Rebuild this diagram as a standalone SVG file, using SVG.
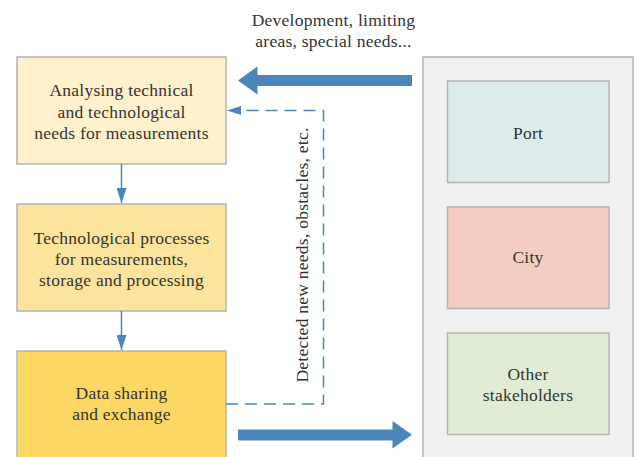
<svg xmlns="http://www.w3.org/2000/svg" width="641" height="457" viewBox="0 0 641 457">
  <defs>
    <style>
      .lbl { font-family: "Liberation Serif", "Times New Roman", serif; font-size: 17.5px; letter-spacing: 0.25px; fill: #333333; text-anchor: middle; }
      .box { stroke: #b3b3b3; stroke-width: 1.5; }
      .thin { stroke: #4a86b9; stroke-width: 1.5; fill: none; }
      .dash { stroke: #4a86b9; stroke-width: 1.5; fill: none; stroke-dasharray: 12 7; }
      .big { fill: #4a86b9; }
    </style>
    <marker id="headLong" markerWidth="15" markerHeight="10" viewBox="0 0 15 10" refX="15" refY="5" orient="auto" markerUnits="userSpaceOnUse">
      <path d="M0,0 L15,5 L0,10 Z" fill="#4a86b9"/>
    </marker>
  </defs>

  <!-- stakeholder container -->
  <g id="stakeholders">
    <rect class="box" x="423" y="57" width="210" height="410" fill="#f0f0f0"/>
  </g>

  <g id="analysing">
    <rect class="box" x="17" y="57" width="209" height="107" fill="#fef1cb"/>
    <text class="lbl" x="121.5" y="96">Analysing technical</text>
    <text class="lbl" x="121.5" y="117.5">and technological</text>
    <text class="lbl" x="121.5" y="139">needs for measurements</text>
  </g>

  <g id="processes">
    <rect class="box" x="17" y="204" width="209" height="107" fill="#fde49c"/>
    <text class="lbl" x="121.5" y="244">Technological processes</text>
    <text class="lbl" x="121.5" y="265">for measurements,</text>
    <text class="lbl" x="121.5" y="285.5">storage and processing</text>
  </g>

  <g id="sharing">
    <rect class="box" x="17" y="351" width="209" height="120" fill="#fcd764"/>
    <text class="lbl" x="121.5" y="398.5">Data sharing</text>
    <text class="lbl" x="121.5" y="420">and exchange</text>
  </g>

  <g id="port">
    <rect class="box" x="447.5" y="81" width="161.5" height="101.5" fill="#dcecea"/>
    <text class="lbl" x="528" y="138.5">Port</text>
  </g>

  <g id="city">
    <rect class="box" x="447.5" y="207" width="161.5" height="101.5" fill="#f5cdc0"/>
    <text class="lbl" x="528" y="262.5">City</text>
  </g>

  <g id="other">
    <rect class="box" x="447.5" y="333" width="161.5" height="101.5" fill="#e1ecd4"/>
    <text class="lbl" x="528" y="380">Other</text>
    <text class="lbl" x="528" y="401">stakeholders</text>
  </g>

  <g id="connectors">
    <!-- flow between process steps -->
    <line class="thin" x1="121.5" y1="164" x2="121.5" y2="203" marker-end="url(#headLong)"/>
    <line class="thin" x1="121.5" y1="311" x2="121.5" y2="350" marker-end="url(#headLong)"/>

    <!-- feedback loop -->
    <path class="dash" d="M226,404 H323.5 V110.5 H241"/>
    <path d="M227,110.5 L241,106 L241,115 Z" fill="#4a86b9"/>
    <text class="lbl" transform="translate(307.5,255) rotate(-90)" x="0" y="0">Detected new needs, obstacles, etc.</text>

    <!-- stakeholder input -->
    <path class="big" d="M412,75 H257.5 V66.5 L238,80.5 L257.5,94.5 V86 H412 Z"/>
    <text class="lbl" x="333.5" y="26">Development, limiting</text>
    <text class="lbl" x="333.5" y="47">areas, special needs...</text>

    <!-- shared data output -->
    <path class="big" d="M238,429.5 H392.5 V421 L412,434.8 L392.5,448.5 V440.5 H238 Z"/>
  </g>
</svg>
